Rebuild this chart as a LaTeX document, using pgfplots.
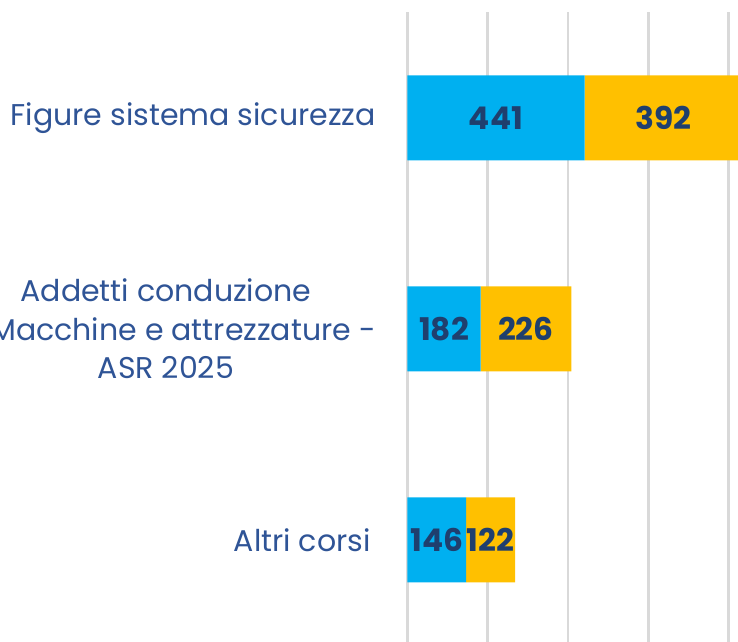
\documentclass[border=0pt]{standalone}
\usepackage{fontspec}
\setmainfont{Poppins}
\usepackage{pgfplots}
\pgfplotsset{compat=1.18}
\definecolor{barblue}{HTML}{00B0F0}
\definecolor{bargold}{HTML}{FFC000}
\definecolor{labelblue}{HTML}{2F5496}
\definecolor{numblue}{HTML}{1F3F6E}
\definecolor{gridgray}{HTML}{D9D9D9}
\begin{document}
\begin{tikzpicture}
\begin{axis}[
  xbar stacked,
  x=0.1606pt, y=84.4pt,
  y dir=reverse,
  xmin=0, xmax=900, ymin=-0.5, ymax=2.5,
  enlargelimits=false,
  axis line style={draw=none},
  tick style={draw=none},
  xtick={0,200,400,600,800},
  xticklabels={},
  xmajorgrids,
  grid style={draw=gridgray, line width=1.1pt},
  ytick={0,1,2},
  yticklabels={Figure sistema sicurezza,{Addetti conduzione\hspace*{13.6pt}\\Macchine e attrezzature -\hspace*{13.6pt}\\ASR 2025\hspace*{13.6pt}},Altri corsi\hspace*{2pt}},
  yticklabel style={align=center, text=labelblue, font=\fontsize{12}{15.4}\selectfont, xshift=-9.2pt},
  bar width=34pt,
  /pgf/number format/assume math mode=true,
  nodes near coords,
  every node near coord/.append style={anchor=center,
    font=\fontsize{12.5}{15}\selectfont\bfseries, text=numblue},
  clip=true,
]
\addplot[fill=barblue, draw=none] coordinates {(441,0) (182,1) (146,2)};
\addplot[fill=bargold, draw=none] coordinates {(392,0) (226,1) (122,2)};
\coordinate (TL) at (axis cs:0,-0.5);
\end{axis}
\pgfresetboundingbox
\path[use as bounding box] ([shift={(-163pt,5pt)}]TL) rectangle ++(295.2pt,-256.8pt);
\end{tikzpicture}
\end{document}
